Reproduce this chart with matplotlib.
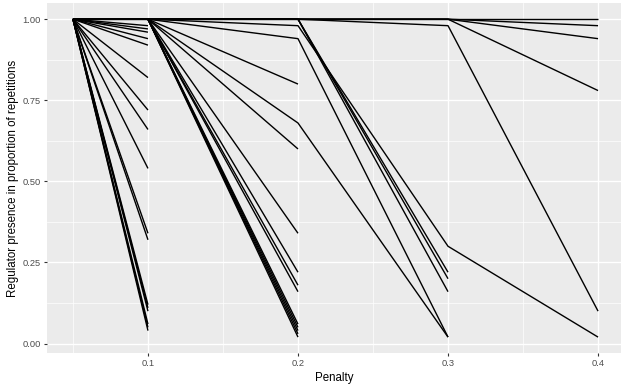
import numpy as np
import matplotlib
matplotlib.use("Agg")
import matplotlib.pyplot as plt

penalty = [0.05, 0.1, 0.2, 0.3, 0.4]

# presence at 0.1 for regulators only seen at the two lowest penalties (all 1.0 at 0.05)
last_at_01 = [0.98, 0.97, 0.96, 0.94, 0.92, 0.82, 0.72, 0.66, 0.54, 0.34, 0.32,
              0.12, 0.11, 0.10, 0.06, 0.05, 0.04]
# presence at 0.2 for regulators seen up to 0.2 (1.0 at 0.05 and 0.1)
last_at_02 = [0.80, 0.60, 0.34, 0.22, 0.18, 0.16, 0.06, 0.05, 0.04, 0.03, 0.02]
# regulators seen up to 0.3: values at 0.05, 0.1, 0.2, 0.3
last_at_03 = [
    [1.0, 1.0, 0.94, 0.02],
    [1.0, 1.0, 0.68, 0.02],
    [1.0, 1.0, 1.0, 0.22],
    [1.0, 1.0, 1.0, 0.20],
    [1.0, 1.0, 1.0, 0.16],
]
# regulators seen at every penalty
last_at_04 = [
    [1.0, 1.0, 0.98, 0.30, 0.02],
    [1.0, 1.0, 1.0, 0.98, 0.10],
    [1.0, 1.0, 1.0, 1.0, 1.0],
    [1.0, 1.0, 1.0, 1.0, 0.98],
    [1.0, 1.0, 1.0, 1.0, 0.94],
    [1.0, 1.0, 1.0, 1.0, 0.78],
]

series = []
for v in last_at_01:
    series.append([1.0, v])
for v in last_at_02:
    series.append([1.0, 1.0, v])
series += last_at_03 + last_at_04

plt.rcParams['font.family'] = ['Liberation Sans', 'DejaVu Sans']

fig = plt.figure(figsize=(6.21, 3.92), dpi=100)
ax = fig.add_axes([47 / 621, 39 / 392, 1 - 47 / 621, 349.7 / 392])
ax.set_facecolor('#EBEBEB')

for s in series:
    ax.plot(penalty[:len(s)], s, color='black', linewidth=1.0, solid_capstyle='butt')

ax.set_xlim(0.0327, 0.4153)
ax.set_ylim(-0.029, 1.049)

ax.set_xticks([0.1, 0.2, 0.3, 0.4])
ax.set_xticklabels(['0.1', '0.2', '0.3', '0.4'])
ax.set_yticks([0.0, 0.25, 0.5, 0.75, 1.0])
ax.set_yticklabels(['0.00', '0.25', '0.50', '0.75', '1.00'])
ax.set_xticks([0.05, 0.15, 0.25, 0.35], minor=True)
ax.set_yticks([0.125, 0.375, 0.625, 0.875], minor=True)

ax.grid(which='major', color='white', linewidth=1.0)
ax.grid(which='minor', color='white', linewidth=0.5)
ax.set_axisbelow(True)
for sp in ax.spines.values():
    sp.set_visible(False)

ax.tick_params(which='major', length=2.2, width=0.8, color='#333333',
               labelsize=6.7, labelcolor='#4D4D4D', pad=2.2)
ax.tick_params(which='minor', length=0)

ax.set_xlabel('Penalty', fontsize=8.3, labelpad=3)
ax.set_ylabel('Regulator presence in proportion of repetitions', fontsize=8.3, labelpad=2.5)

fig.savefig('out.png', dpi=100)
